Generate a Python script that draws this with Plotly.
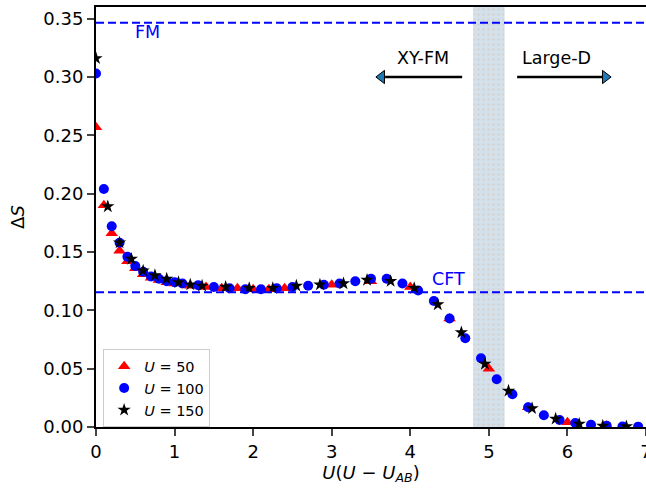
import plotly.graph_objects as go

# ---- data ----
x_u50 = [0.0, 0.1, 0.2, 0.3, 0.4, 0.5, 0.6, 0.7, 0.8, 0.9, 1.0, 1.2, 1.4, 1.6, 1.8, 2.0, 2.2, 2.4,
         3.0, 3.5, 4.0, 4.5, 5.0, 5.5, 6.0, 6.5]
y_u50 = [0.257, 0.190, 0.166, 0.151, 0.142, 0.136, 0.131, 0.128, 0.126, 0.124, 0.123, 0.121, 0.120,
         0.119, 0.119, 0.118, 0.118, 0.119, 0.122, 0.125, 0.120, 0.093, 0.050, 0.017, 0.004, 0.001]

x_u100 = [0.0, 0.1, 0.2, 0.3, 0.4, 0.5, 0.6, 0.7, 0.8, 0.9, 1.0, 1.1, 1.3, 1.5, 1.7, 1.9, 2.1, 2.3,
          2.5, 2.7, 2.9, 3.1, 3.3, 3.5, 3.7, 3.9, 4.1, 4.3, 4.5, 4.7, 4.9, 5.1, 5.3, 5.5, 5.7, 5.9,
          6.1, 6.3, 6.5, 6.7, 6.9]
y_u100 = [0.303, 0.204, 0.172, 0.158, 0.146, 0.138, 0.133, 0.129, 0.127, 0.125, 0.124, 0.123, 0.1215,
          0.120, 0.119, 0.118, 0.118, 0.119, 0.120, 0.121, 0.122, 0.123, 0.125, 0.127, 0.127, 0.123,
          0.117, 0.108, 0.093, 0.076, 0.059, 0.041, 0.028, 0.017, 0.010, 0.006, 0.0035, 0.002, 0.001,
          0.0005, 0.0003]

x_u150 = [0.0, 0.15, 0.3, 0.45, 0.6, 0.75, 0.9, 1.05, 1.2, 1.35, 1.65, 1.95, 2.25, 2.55, 2.85, 3.15,
          3.45, 3.75, 4.05, 4.35, 4.65, 4.95, 5.25, 5.55, 5.85, 6.15, 6.45, 6.75]
y_u150 = [0.316, 0.189, 0.158, 0.144, 0.134, 0.130, 0.127, 0.124, 0.122, 0.121, 0.120, 0.119, 0.119,
          0.121, 0.122, 0.123, 0.126, 0.125, 0.119, 0.105, 0.081, 0.054, 0.031, 0.016, 0.007, 0.0026,
          0.001, 0.0004]

series_names = ["<i>U</i> = 50", "<i>U</i> = 100", "<i>U</i> = 150"]

FM_LEVEL = 0.3466    # ln2 / 2
CFT_LEVEL = 0.1155   # ln2 / 6
BAND = (4.8, 5.2)
X_RANGE = [0, 7]
Y_RANGE = [0, 0.36]
x_ticks = [0, 1, 2, 3, 4, 5, 6, 7]
y_ticks = [0.00, 0.05, 0.10, 0.15, 0.20, 0.25, 0.30, 0.35]

ARROW_Y = 0.30
arrow_left = (4.66, 3.68, 3.635)    # tail, base of head, head centre
arrow_right = (5.36, 6.445, 6.483)

FONT = "DejaVu Sans"

fig = go.Figure()

# shaded transition band (dotted hatch)
fig.add_trace(go.Bar(
    x=[(BAND[0] + BAND[1]) / 2], y=[Y_RANGE[1]], width=[BAND[1] - BAND[0]], base=[0],
    marker=dict(color="#d3e1ec", line=dict(width=0),
                pattern=dict(shape=".", fgcolor="#d9c4b2", bgcolor="#d3e1ec", size=5, solidity=0.22)),
    showlegend=False, hoverinfo="skip"))

# data
fig.add_trace(go.Scatter(x=x_u50, y=y_u50, mode="markers", name=series_names[0],
                         marker=dict(symbol="triangle-up", size=11, color="#ff0000")))
fig.add_trace(go.Scatter(x=x_u100, y=y_u100, mode="markers", name=series_names[1],
                         marker=dict(symbol="circle", size=10, color="#0000ff")))
fig.add_trace(go.Scatter(x=x_u150, y=y_u150, mode="markers", name=series_names[2],
                         marker=dict(symbol="star", size=10, color="#000000")))

# arrows
for (tail, base, head), sym in [(arrow_left, "triangle-left"), (arrow_right, "triangle-right")]:
    fig.add_trace(go.Scatter(x=[tail, base], y=[ARROW_Y, ARROW_Y], mode="lines",
                             line=dict(color="black", width=2.6), showlegend=False, hoverinfo="skip"))
    fig.add_trace(go.Scatter(x=[head], y=[ARROW_Y], mode="markers",
                             marker=dict(symbol=sym, size=11.5, color="#1f77b4",
                                         line=dict(color="black", width=1)),
                             showlegend=False, hoverinfo="skip"))

# reference lines
for lvl in (FM_LEVEL, CFT_LEVEL):
    fig.add_shape(type="line", xref="paper", x0=0, x1=1, yref="y", y0=lvl, y1=lvl,
                  line=dict(color="#0000ff", width=2, dash="8px,4px"))

fig.add_annotation(x=0.66, y=0.339, text="FM", showarrow=False,
                   font=dict(color="#0000ff", size=17.5, family=FONT))
fig.add_annotation(x=4.49, y=0.1265, text="CFT", showarrow=False,
                   font=dict(color="#0000ff", size=17.5, family=FONT))
fig.add_annotation(x=4.16, y=0.3165, text="XY-FM", showarrow=False,
                   font=dict(color="black", size=17.5, family=FONT))
fig.add_annotation(x=5.86, y=0.3165, text="Large-D", showarrow=False,
                   font=dict(color="black", size=17.5, family=FONT))

fig.update_layout(
    width=646, height=488,
    margin=dict(l=96, r=0, t=7, b=61, autoexpand=False),
    plot_bgcolor="white", paper_bgcolor="white",
    font=dict(family=FONT, size=18, color="black"),
    showlegend=True,
    legend=dict(x=0.013, y=0.185, xanchor="left", yanchor="top",
                bgcolor="rgba(255,255,255,0.8)", bordercolor="#cccccc", borderwidth=1,
                font=dict(size=14.5, family=FONT), itemwidth=30, tracegroupgap=0),
    xaxis=dict(range=X_RANGE, tickvals=x_ticks, ticks="outside", ticklen=7, tickwidth=2,
               showline=True, linecolor="black", linewidth=2, mirror=True, automargin=False,
               showgrid=False, zeroline=False, ticklabeloverflow="allow",
               title=dict(text="<i>U</i>(<i>U</i> − <i>U</i><sub><i>AB</i></sub>)", standoff=0,
                          font=dict(size=18))),
    yaxis=dict(range=Y_RANGE, tickvals=y_ticks, tickformat=".2f", ticks="outside", ticklen=7,
               tickwidth=2, showline=True, linecolor="black", linewidth=2, mirror=False,
               automargin=False, showgrid=False, zeroline=False,
               title=dict(text="Δ<i>S</i>", standoff=14, font=dict(size=18))),
)

fig.write_html("out.html", config={"displayModeBar": False},
               post_script="document.body.style.margin='0';document.body.style.overflow='hidden';")
